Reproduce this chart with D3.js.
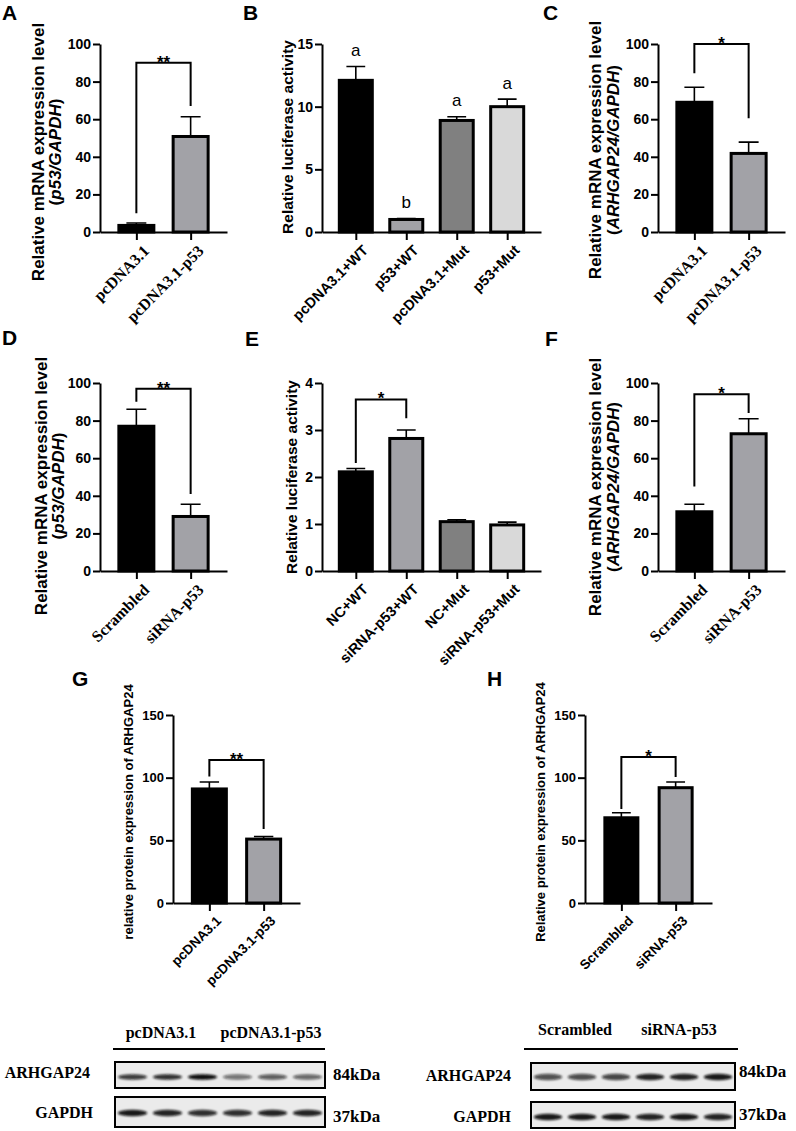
<!DOCTYPE html>
<html>
<head>
<meta charset="utf-8">
<script src="https://cdn.jsdelivr.net/npm/d3@7"></script>
<style>
    body { margin: 0; background: #fff; }
    svg { display: block; }
</style>
</head>
<body>
<svg id="svg"></svg>
<script>
// ---- data ----
const catsA = ["pcDNA3.1", "pcDNA3.1-p53"];
const meanA = [3.5, 50.8];
const sdA = [1.3, 10.5];
const bracketA = [90, 10, 67];     // level, left leg end, right leg end

const catsB = ["pcDNA3.1+WT", "p53+WT", "pcDNA3.1+Mut", "p53+Mut"];
const meanB = [12.1, 1.0, 8.9, 10.0];
const sdB = [1.1, 0.07, 0.3, 0.6];
const lettersB = ["a", "b", "a", "a"];

const catsC = ["pcDNA3.1", "pcDNA3.1-p53"];
const meanC = [69, 41.8];
const sdC = [8, 6];
const bracketC = [100, 84.5, 60.5];

const catsD = ["Scrambled", "siRNA-p53"];
const meanD = [77, 29];
const sdD = [9, 6.5];
const bracketD = [97, 90, 41];

const catsE = ["NC+WT", "siRNA-p53+WT", "NC+Mut", "siRNA-p53+Mut"];
const meanE = [2.11, 2.82, 1.05, 0.98];
const sdE = [0.07, 0.18, 0.04, 0.06];
const bracketE = [3.65, 2.3, 3.25];

const catsF = ["Scrambled", "siRNA-p53"];
const meanF = [31.5, 73];
const sdF = [4, 8];
const bracketF = [94, 45, 84];

const catsG = ["pcDNA3.1", "pcDNA3.1-p53"];
const meanG = [91, 51];
const sdG = [5.5, 2];
const bracketG = [114, 101, 59];

const catsH = ["Scrambled", "siRNA-p53"];
const meanH = [68, 92];
const sdH = [4, 4.5];
const bracketH = [116.5, 75, 100.5];

const ticks100 = [0, 20, 40, 60, 80, 100];
const ticks15 = [0, 5, 10, 15];
const ticks4 = [0, 1, 2, 3, 4];
const ticks150 = [0, 50, 100, 150];

// western blot band intensities (0..1), 6 lanes each
const bandsG84 = [0.8, 0.85, 1.0, 0.55, 0.65, 0.6];
const bandsG37 = [0.95, 0.9, 0.85, 0.85, 0.9, 0.9];
const bandsH84 = [0.7, 0.72, 0.75, 0.9, 0.9, 0.95];
const bandsH37 = [0.95, 0.95, 0.95, 0.9, 0.95, 0.9];

const fill2 = ["#000000", "#a2a2a7"];
const fill4 = ["#000000", "#a2a2a7", "#808080", "#d9d9d9"];

const sans = "'Liberation Sans', Arial, sans-serif";
const serif = "'Liberation Serif', 'Times New Roman', serif";

let svg = d3.select("#svg");
let width = 796;
let height = 1131;
svg.attr("width", width).attr("height", height);

let defs = svg.append("defs");
defs.append("filter").attr("id", "blur")
    .attr("x", "-50%").attr("y", "-100%").attr("width", "200%").attr("height", "300%")
    .append("feGaussianBlur").attr("stdDeviation", 1.3);

const titleMrnaP53 = [[["Relative mRNA expression level", false]], [["(", false], ["p53/GAPDH", true], [")", false]]];
const titleMrnaArh = [[["Relative mRNA expression level", false]], [["(", false], ["ARHGAP24/GAPDH", true], [")", false]]];
const titleLuc = [[["Relative luciferase activity", false]]];

const panels = [
    { letter: "A", lx: 2, ly: 20, left: 100, right: 227, top: 44, bottom: 232, domain: [0, 100], ticks: ticks100,
      cats: catsA, means: meanA, sds: sdA, fills: fill2, bw: 35, bracket: bracketA, sig: "**",
      labFont: serif, labSize: 16, title: titleMrnaP53, titleX: [38, 55], titleY: 152, titleSize: 17 },
    { letter: "B", lx: 243, ly: 20, left: 322, right: 541, top: 44, bottom: 232, domain: [0, 15], ticks: ticks15,
      cats: catsB, means: meanB, sds: sdB, fills: fill4, bw: 33, letters: lettersB,
      labFont: sans, labSize: 14.5, title: titleLuc, titleX: [288], titleY: 137, titleSize: 15.5 },
    { letter: "C", lx: 543, ly: 20, left: 658, right: 785, top: 44, bottom: 232, domain: [0, 100], ticks: ticks100,
      cats: catsC, means: meanC, sds: sdC, fills: fill2, bw: 35, bracket: bracketC, sig: "*",
      labFont: serif, labSize: 16, title: titleMrnaArh, titleX: [595, 613], titleY: 150, titleSize: 17 },
    { letter: "D", lx: 2, ly: 345, left: 100, right: 227, top: 383, bottom: 571, domain: [0, 100], ticks: ticks100,
      cats: catsD, means: meanD, sds: sdD, fills: fill2, bw: 35, bracket: bracketD, sig: "**",
      labFont: serif, labSize: 16, title: titleMrnaP53, titleX: [41, 58], titleY: 486, titleSize: 17 },
    { letter: "E", lx: 245, ly: 346, left: 322, right: 541, top: 383, bottom: 571, domain: [0, 4], ticks: ticks4,
      cats: catsE, means: meanE, sds: sdE, fills: fill4, bw: 33, bracket: bracketE, sig: "*",
      labFont: sans, labSize: 14.5, title: titleLuc, titleX: [292], titleY: 477, titleSize: 15.5 },
    { letter: "F", lx: 545, ly: 346, left: 658, right: 785, top: 383, bottom: 571, domain: [0, 100], ticks: ticks100,
      cats: catsF, means: meanF, sds: sdF, fills: fill2, bw: 35, bracket: bracketF, sig: "*",
      labFont: serif, labSize: 16, title: titleMrnaArh, titleX: [595, 613], titleY: 487, titleSize: 17 },
    { letter: "G", lx: 72, ly: 686, left: 173, right: 300, top: 715, bottom: 903, domain: [0, 150], ticks: ticks150,
      cats: catsG, means: meanG, sds: sdG, fills: fill2, bw: 34, bracket: bracketG, sig: "**",
      labFont: sans, labSize: 13.5, title: [[["relative protein expression of ARHGAP24", false]]], titleX: [128], titleY: 812, titleSize: 13 },
    { letter: "H", lx: 487, ly: 686, left: 585, right: 712, top: 715, bottom: 903, domain: [0, 150], ticks: ticks150,
      cats: catsH, means: meanH, sds: sdH, fills: fill2, bw: 33, bracket: bracketH, sig: "*",
      labFont: sans, labSize: 13.5, title: [[["Relative protein expression of ARHGAP24", false]]], titleX: [540], titleY: 812, titleSize: 13 }
];

function drawPanel(p) {
    let g = svg.append("g");
    let y = d3.scaleLinear().domain(p.domain).range([p.bottom, p.top]);
    let x = d3.scalePoint().domain(p.cats).range([p.left, p.right]).padding(0.67);

    // bars
    g.selectAll("rect.bar").data(p.cats).join("rect")
        .attr("class", "bar")
        .attr("x", d => x(d) - p.bw / 2)
        .attr("y", (d, i) => y(p.means[i]))
        .attr("width", p.bw)
        .attr("height", (d, i) => y(0) - y(p.means[i]))
        .attr("fill", (d, i) => p.fills[i])
        .attr("stroke", "#000")
        .attr("stroke-width", 3);

    // error bars (upper only)
    let cap = p.bw * 0.57;
    g.selectAll("path.err").data(p.cats).join("path")
        .attr("class", "err")
        .attr("d", (d, i) => {
            let cx = x(d), y0 = y(p.means[i]), y1 = y(p.means[i] + p.sds[i]);
            return `M${cx},${y0}V${y1}M${cx - cap / 2},${y1}H${cx + cap / 2}`;
        })
        .attr("fill", "none")
        .attr("stroke", "#000")
        .attr("stroke-width", 1.6);

    // axes
    let ya = g.append("g")
        .attr("transform", `translate(${p.left},0)`)
        .call(d3.axisLeft(y).tickValues(p.ticks).tickFormat(d3.format("d"))
            .tickSize(7).tickSizeOuter(0).tickPadding(2));
    let xa = g.append("g")
        .attr("transform", `translate(0,${p.bottom})`)
        .call(d3.axisBottom(x).tickSize(8).tickSizeOuter(0).tickFormat(""));
    [ya, xa].forEach(a => {
        a.selectAll("path, line").attr("stroke", "#000").attr("stroke-width", 2);
    });
    ya.selectAll("text")
        .style("font-family", sans)
        .style("font-size", (p.top > 700 ? 13 : 14) + "px")
        .style("font-weight", "bold")
        .attr("fill", "#000");

    // category labels
    g.selectAll("text.cat").data(p.cats).join("text")
        .attr("class", "cat")
        .attr("transform", d => `translate(${x(d) + 6},${p.bottom + 12}) rotate(-45)`)
        .attr("text-anchor", "end")
        .attr("dy", "0.7em")
        .style("font-family", p.labFont)
        .style("font-size", p.labSize + "px")
        .style("font-weight", "bold")
        .text(d => d);

    // significance bracket
    if (p.bracket) {
        let b = p.bracket;
        let c0 = x(p.cats[0]), c1 = x(p.cats[1]);
        g.append("path")
            .attr("d", `M${c0},${y(b[1])}V${y(b[0])}H${c1}V${y(b[2])}`)
            .attr("fill", "none")
            .attr("stroke", "#000")
            .attr("stroke-width", 2);
        g.append("text")
            .attr("x", (c0 + c1) / 2)
            .attr("y", y(b[0]) + 5)
            .attr("text-anchor", "middle")
            .style("font-family", sans)
            .style("font-size", "17px")
            .style("font-weight", "bold")
            .text(p.sig);
    }

    // group letters
    if (p.letters) {
        g.selectAll("text.let").data(p.cats).join("text")
            .attr("class", "let")
            .attr("x", d => x(d))
            .attr("y", (d, i) => y(p.means[i] + p.sds[i]) - 10.5)
            .attr("text-anchor", "middle")
            .style("font-family", sans)
            .style("font-size", "17px")
            .text((d, i) => p.letters[i]);
    }

    // axis title
    p.title.forEach((line, li) => {
        let t = g.append("text")
            .attr("transform", `translate(${p.titleX[li]},${p.titleY}) rotate(-90)`)
            .attr("text-anchor", "middle")
            .attr("dy", "0.35em")
            .style("font-family", sans)
            .style("font-size", p.titleSize + "px")
            .style("font-weight", "bold");
        line.forEach(seg => {
            t.append("tspan").style("font-style", seg[1] ? "italic" : "normal").text(seg[0]);
        });
    });

    // panel letter
    svg.append("text")
        .attr("x", p.lx).attr("y", p.ly)
        .style("font-family", sans)
        .style("font-size", "21px")
        .style("font-weight", "bold")
        .text(p.letter);
}

panels.forEach(drawPanel);

// ---- western blots ----
const blots = [
    { x0: 115, x1: 325, lineX: [113, 325], lineY: 1049, headY: 1038,
      heads: [["pcDNA3.1", 161], ["pcDNA3.1-p53", 271]], kdaX: 333,
      rows: [
          { name: "ARHGAP24", nameX: 90, nameY: 1078, kda: "84kDa", kdaY: 1080, y0: 1062, y1: 1088, bandY: 1077, bands: bandsG84, ry: 2.8 },
          { name: "GAPDH", nameX: 93, nameY: 1118, kda: "37kDa", kdaY: 1122, y0: 1097, y1: 1127, bandY: 1113, bands: bandsG37, ry: 3.2 }
      ] },
    { x0: 531, x1: 735, lineX: [524, 738], lineY: 1049, headY: 1035,
      heads: [["Scrambled", 575], ["siRNA-p53", 679]], kdaX: 739,
      rows: [
          { name: "ARHGAP24", nameX: 511, nameY: 1081, kda: "84kDa", kdaY: 1077, y0: 1063, y1: 1090, bandY: 1077, bands: bandsH84, ry: 3.2 },
          { name: "GAPDH", nameX: 511, nameY: 1122, kda: "37kDa", kdaY: 1120, y0: 1102, y1: 1128, bandY: 1117, bands: bandsH37, ry: 3.2 }
      ] }
];

function drawBlot(b) {
    let g = svg.append("g");
    let lanes = d3.scaleBand().domain(d3.range(6)).range([b.x0, b.x1]);

    g.selectAll("text.head").data(b.heads).join("text")
        .attr("x", d => d[1]).attr("y", b.headY)
        .attr("text-anchor", "middle")
        .style("font-family", serif).style("font-size", "16px").style("font-weight", "bold")
        .text(d => d[0]);
    g.append("line")
        .attr("x1", b.lineX[0]).attr("x2", b.lineX[1])
        .attr("y1", b.lineY).attr("y2", b.lineY)
        .attr("stroke", "#000").attr("stroke-width", 2);

    b.rows.forEach(r => {
        g.append("rect")
            .attr("x", b.x0).attr("y", r.y0)
            .attr("width", b.x1 - b.x0).attr("height", r.y1 - r.y0)
            .attr("fill", "#ebebeb");
        g.append("g").attr("filter", "url(#blur)")
            .selectAll("ellipse").data(r.bands).join("ellipse")
            .attr("cx", (d, i) => lanes(i) + lanes.bandwidth() / 2)
            .attr("cy", r.bandY)
            .attr("rx", lanes.bandwidth() * 0.42)
            .attr("ry", r.ry)
            .attr("fill", "#0c0c0c")
            .attr("fill-opacity", d => d);
        g.append("rect")
            .attr("x", b.x0).attr("y", r.y0)
            .attr("width", b.x1 - b.x0).attr("height", r.y1 - r.y0)
            .attr("fill", "none").attr("stroke", "#000").attr("stroke-width", 2);
        g.append("text")
            .attr("x", r.nameX).attr("y", r.nameY)
            .attr("text-anchor", "end")
            .style("font-family", serif).style("font-size", "16px").style("font-weight", "bold")
            .text(r.name);
        g.append("text")
            .attr("x", b.kdaX).attr("y", r.kdaY)
            .style("font-family", serif).style("font-size", "17px").style("font-weight", "bold")
            .text(r.kda);
    });
}

blots.forEach(drawBlot);
</script>
</body>
</html>
